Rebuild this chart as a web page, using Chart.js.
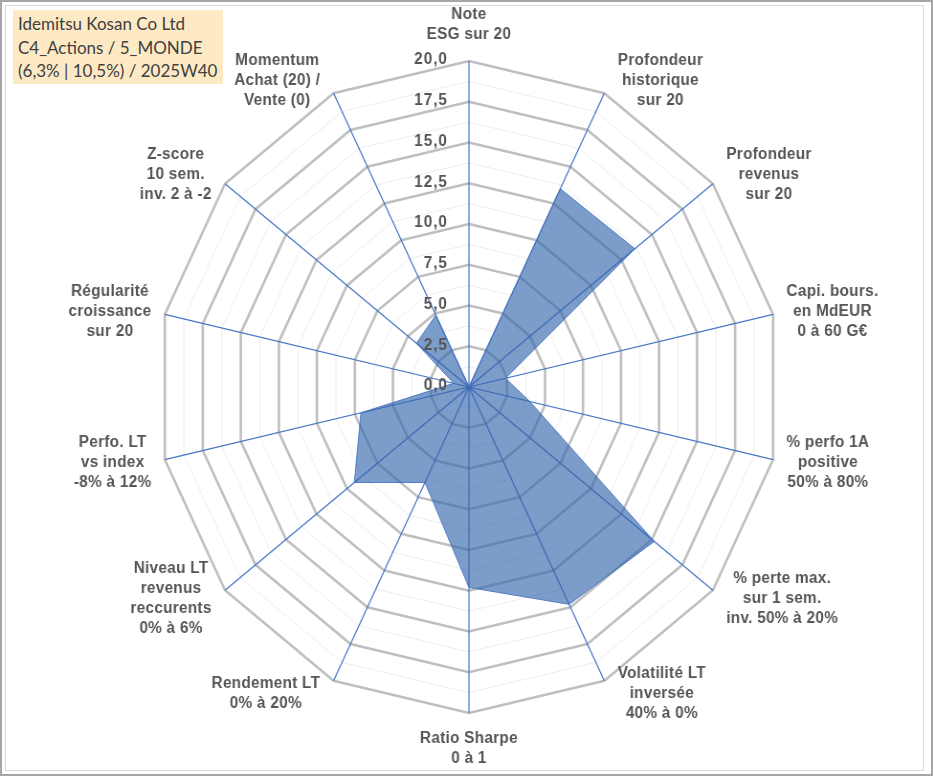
<!DOCTYPE html>
<html lang="fr">
<head>
<meta charset="utf-8">
<title>Idemitsu Kosan Co Ltd</title>
<script src="https://cdn.jsdelivr.net/npm/chart.js@4.4.1/dist/chart.umd.min.js"></script>
<style>
html, body { margin: 0; padding: 0; background: #fff; }
body { width: 933px; height: 776px; position: relative; overflow: hidden; }
#cadre { position: absolute; left: 0; top: 0; width: 929px; height: 772px; border: 2px solid #a6a6a6; }
#cadre2 { position: absolute; left: 5px; top: 5px; width: 917px; height: 764px; border: 1px solid #dcdcdc; }
#zone { position: absolute; left: 0; top: 0; width: 975px; height: 776px; transform: scaleX(0.957); transform-origin: 0 0; }
#titre {
    position: absolute; left: 13px; top: 10px; width: 205px; height: 72px;
    padding: 2px 0 0 5px; background: #fde9c4;
    font-family: Lato, "Open Sans", sans-serif; font-size: 17px; line-height: 23.5px; color: #404040;
}
</style>
</head>
<body>
<div id="cadre"></div>
<div id="cadre2"></div>
<div id="zone"><canvas id="radar"></canvas></div>
<div id="titre">Idemitsu Kosan Co Ltd<br>C4_Actions / 5_MONDE<br>(6,3% | 10,5%) / 2025W40</div>

<script>
// axes du radar (dans le sens horaire, depuis le haut)
var categories = [
    ['Note', 'ESG sur 20'],
    ['Profondeur', 'historique', 'sur 20'],
    ['Profondeur', 'revenus', 'sur 20'],
    ['Capi. bours.', 'en MdEUR', '0 à 60 G€'],
    ['% perfo 1A', 'positive', '50% à 80%'],
    ['% perte max.', 'sur 1 sem.', 'inv. 50% à 20%'],
    ['Volatilité LT', 'inversée', '40% à 0%'],
    ['Ratio Sharpe', '0 à 1'],
    ['Rendement LT', '0% à 20%'],
    ['Niveau LT', 'revenus', 'reccurents', '0% à 6%'],
    ['Perfo. LT', 'vs index', '-8% à 12%'],
    ['Régularité', 'croissance', 'sur 20'],
    ['Z-score', '10 sem.', 'inv. 2 à -2'],
    ['Momentum', 'Achat (20) /', 'Vente (0)']
];

// notes sur 20
var notes = [0, 13.5, 13.6, 2.4, 4.0, 15.2, 14.8, 12.3, 6.5, 9.4, 7.1, 1.0, 4.3, 4.9];

// graduations
var echelleMin = 0;
var echelleMax = 20;
var pasGrille = 1.25;
var pasLibelle = 2.5;

function estMajeur(v) {
    return Math.abs(v / pasLibelle - Math.round(v / pasLibelle)) < 1e-6;
}

// libellés des axes et des graduations, dessinés à la main (centrés comme sous Excel)
var libelles = {
    id: 'libelles',
    afterDraw: function(chart) {
        var r = chart.scales.r, ctx = chart.ctx;
        ctx.save();
        ctx.fillStyle = '#555555';
        ctx.textBaseline = 'middle';

        // graduations
        ctx.font = 'bold 16px "Liberation Sans", Arial, sans-serif';
        ctx.letterSpacing = '1px';
        ctx.textAlign = 'right';
        r.ticks.forEach(function(t) {
            if (!t.label) return;
            var d = r.getDistanceFromCenterForValue(t.value);
            ctx.fillText(t.label, r.xCenter - 22, r.yCenter - d - 1);
        });

        // noms des axes
        ctx.letterSpacing = '0.3px';
        ctx.textAlign = 'center';
        var lh = 20;
        categories.forEach(function(lignes, i) {
            var p = r.getPointPosition(i, r.drawingArea);
            var w = 0;
            lignes.forEach(function(s) { w = Math.max(w, ctx.measureText(s).width); });
            var h = lignes.length * lh;
            var cx = Math.cos(p.angle), cy = Math.sin(p.angle);
            var x, y;
            if (Math.abs(cx) < 0.01) {
                x = p.x;
                y = p.y + (cy < 0 ? -1 : 1) * (h / 2 + 16);
            } else {
                x = p.x + (cx < 0 ? -1 : 1) * (w / 2 + 14);
                y = p.y + 14 * cy;
            }
            lignes.forEach(function(s, k) {
                ctx.fillText(s, x, y - h / 2 + lh * (k + 0.5));
            });
        });
        ctx.restore();
    }
};

var ctx = document.getElementById('radar').getContext('2d');
var graphe = new Chart(ctx, {
    type: 'radar',
    data: {
        labels: categories,
        datasets: [{
            data: notes,
            backgroundColor: 'rgba(50,100,170,0.64)',
            borderColor: 'rgba(68,114,196,0.9)',
            borderWidth: 1,
            pointRadius: 0,
            fill: true
        }]
    },
    options: {
        responsive: true,
        maintainAspectRatio: false,
        animation: false,
        layout: { padding: { left: 164, top: 61, right: 158, bottom: 63 } },
        plugins: {
            legend: { display: false },
            tooltip: { enabled: false }
        },
        scales: {
            r: {
                min: echelleMin,
                max: echelleMax,
                startAngle: 0,
                ticks: {
                    display: false,
                    stepSize: pasGrille,
                    callback: function(v) {
                        return estMajeur(v) ? v.toFixed(1).replace('.', ',') : '';
                    }
                },
                pointLabels: { display: false },
                grid: {
                    color: function(c) { return c.tick && estMajeur(c.tick.value) ? '#bfbfbf' : '#ededed'; },
                    lineWidth: function(c) { return c.tick && estMajeur(c.tick.value) ? 2.6 : 1; }
                },
                angleLines: { color: '#4472c4', lineWidth: 1.2 }
            }
        }
    },
    plugins: [libelles]
});
</script>
</body>
</html>
